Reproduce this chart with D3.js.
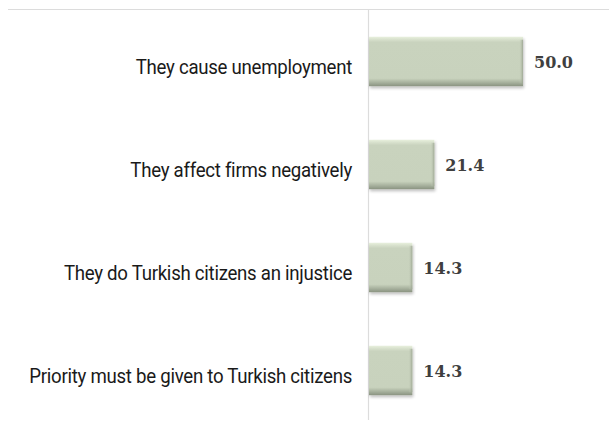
<!DOCTYPE html>
<html>
<head>
<meta charset="utf-8">
<script src="https://cdn.jsdelivr.net/npm/d3@7"></script>
<style>
  html, body { margin: 0; padding: 0; background: #ffffff; }
  svg { display: block; }
</style>
</head>
<body>
<svg id="chart" width="609" height="423"></svg>
<script>
// Reasons given against employing refugees (% of respondents)
const categories = [
  "They cause unemployment",
  "They affect firms negatively",
  "They do Turkish citizens an injustice",
  "Priority must be given to Turkish citizens"
];
const values = [50.0, 21.4, 14.3, 14.3];

const svg = d3.select("#chart");
const W = 609, H = 423;
const axisX = 368;

const y = d3.scaleBand()
  .domain(categories)
  .range([10, 422])
  .paddingInner(0.52)
  .paddingOuter(0.26);

const x = d3.scaleLinear().domain([0, 50]).range([axisX, axisX + 155]);

const defs = svg.append("defs");
const grad = defs.append("linearGradient")
  .attr("id", "barFill").attr("x1", 0).attr("y1", 0).attr("x2", 0).attr("y2", 1);
[["0%", "#e8f0dd"], ["6%", "#d6dfcb"], ["11%", "#c9d3be"], ["84%", "#c8d2bd"], ["92%", "#a9b39f"], ["100%", "#8a9381"]]
  .forEach(([o, c]) => grad.append("stop").attr("offset", o).attr("stop-color", c));

const side = defs.append("linearGradient")
  .attr("id", "sideFill").attr("x1", 0).attr("y1", 0).attr("x2", 1).attr("y2", 0);
[["0%", "#c8d2bd", 0], ["100%", "#99a28f", 0.9]]
  .forEach(([o, c, a]) => side.append("stop").attr("offset", o).attr("stop-color", c).attr("stop-opacity", a));

const shadow = defs.append("filter").attr("id", "shadow")
  .attr("x", "-10%").attr("y", "-20%").attr("width", "130%").attr("height", "150%");
shadow.append("feGaussianBlur").attr("in", "SourceAlpha").attr("stdDeviation", 1.6);
shadow.append("feOffset").attr("dx", 1).attr("dy", 2).attr("result", "off");
shadow.append("feComponentTransfer").append("feFuncA").attr("type", "linear").attr("slope", 0.25);
const merge = shadow.append("feMerge");
merge.append("feMergeNode");
merge.append("feMergeNode").attr("in", "SourceGraphic");

// top border line
svg.append("line")
  .attr("x1", 8).attr("x2", W).attr("y1", 9.5).attr("y2", 9.5)
  .attr("stroke", "#dcdcdc").attr("stroke-width", 1);

// category axis line
svg.append("line")
  .attr("x1", axisX + 0.5).attr("x2", axisX + 0.5).attr("y1", 10).attr("y2", 420)
  .attr("stroke", "#dcdcdc").attr("stroke-width", 1.2);

const bars = svg.append("g").selectAll("g.bar")
  .data(categories.map((c, i) => ({ c, v: values[i] })))
  .join("g").attr("class", "bar");

bars.append("rect")
  .attr("x", x(0) + 1)
  .attr("y", d => y(d.c))
  .attr("width", d => x(d.v) - x(0) - 1)
  .attr("height", y.bandwidth())
  .attr("fill", "url(#barFill)")
  .attr("filter", "url(#shadow)");

// right bevel edge
bars.append("rect")
  .attr("x", d => x(d.v) - 4)
  .attr("y", d => y(d.c) + 3)
  .attr("width", 4)
  .attr("height", y.bandwidth() - 6)
  .attr("fill", "url(#sideFill)");

// value labels
bars.append("text")
  .attr("x", d => x(d.v) + 11)
  .attr("y", d => y(d.c) + y.bandwidth() / 2 + 6.5)
  .attr("font-family", "'DejaVu Serif', serif")
  .attr("font-weight", "bold")
  .attr("font-size", 16)
  .attr("fill", "#3f3f3f")
  .text(d => d.v.toFixed(1));

// category labels, slightly condensed
svg.append("g").selectAll("text")
  .data(categories)
  .join("text")
  .attr("transform", d => `translate(${axisX - 16},${y(d) + y.bandwidth() / 2 + 12.5}) scale(0.91,1)`)
  .attr("text-anchor", "end")
  .attr("font-family", "Roboto, sans-serif")
  .attr("font-size", 20.5)
  .attr("letter-spacing", -0.3)
  .attr("fill", "#1a1a1a")
  .text(d => d);
</script>
</body>
</html>
